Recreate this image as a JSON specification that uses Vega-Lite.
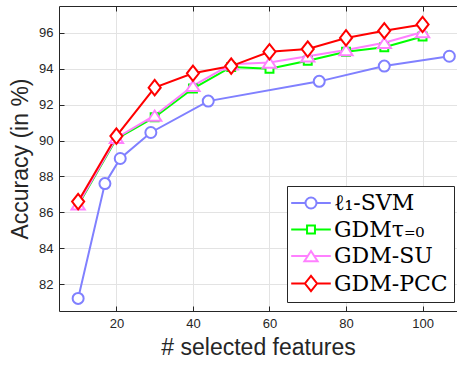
{
  "$schema": "https://vega.github.io/schema/vega-lite/v6.json",
  "width": 398,
  "height": 305,
  "autosize": {"type": "none"},
  "padding": {"left": 59, "top": 6, "right": 0, "bottom": 58},
  "config": {
    "font": "Liberation Sans",
    "view": {"stroke": null},
    "axis": {
      "labelFont": "Liberation Sans",
      "labelFontSize": 13,
      "labelColor": "#262626",
      "titleFont": "Liberation Sans",
      "titleFontSize": 23,
      "titleFontWeight": "normal",
      "titleColor": "#262626",
      "domainColor": "#262626",
      "tickColor": "#262626",
      "gridColor": "#e3e3e3",
      "gridOpacity": 1,
      "domainWidth": 1,
      "tickWidth": 1
    },
    "legend": {
      "orient": "none", "legendX": 228, "legendY": 180,
      "strokeColor": "#262626", "fillColor": "white", "padding": 6,
      "symbolSize": 121, "symbolStrokeWidth": 2, "symbolOffset": 7, "labelOffset": 12,
      "labelFont": "DejaVu Serif", "labelFontSize": 22, "labelColor": "black", "rowPadding": 4.5
    }
  },
  "data": {
    "values": [
      {"method": "ℓ₁-SVM", "n": 10, "acc": 81.2},
      {"method": "ℓ₁-SVM", "n": 17, "acc": 87.6},
      {"method": "ℓ₁-SVM", "n": 21, "acc": 89.0},
      {"method": "ℓ₁-SVM", "n": 29, "acc": 90.45},
      {"method": "ℓ₁-SVM", "n": 44, "acc": 92.2},
      {"method": "ℓ₁-SVM", "n": 73, "acc": 93.3},
      {"method": "ℓ₁-SVM", "n": 90, "acc": 94.15},
      {"method": "ℓ₁-SVM", "n": 107, "acc": 94.7},
      {"method": "GDMτ₌₀", "n": 10, "acc": 86.4},
      {"method": "GDMτ₌₀", "n": 20, "acc": 90.1},
      {"method": "GDMτ₌₀", "n": 30, "acc": 91.3},
      {"method": "GDMτ₌₀", "n": 40, "acc": 92.9},
      {"method": "GDMτ₌₀", "n": 50, "acc": 94.1},
      {"method": "GDMτ₌₀", "n": 60, "acc": 94.0},
      {"method": "GDMτ₌₀", "n": 70, "acc": 94.45},
      {"method": "GDMτ₌₀", "n": 80, "acc": 94.95},
      {"method": "GDMτ₌₀", "n": 90, "acc": 95.2},
      {"method": "GDMτ₌₀", "n": 100, "acc": 95.8},
      {"method": "GDM-SU", "n": 10, "acc": 86.45},
      {"method": "GDM-SU", "n": 20, "acc": 90.15},
      {"method": "GDM-SU", "n": 30, "acc": 91.4},
      {"method": "GDM-SU", "n": 40, "acc": 93.05},
      {"method": "GDM-SU", "n": 50, "acc": 94.25},
      {"method": "GDM-SU", "n": 60, "acc": 94.35},
      {"method": "GDM-SU", "n": 70, "acc": 94.7},
      {"method": "GDM-SU", "n": 80, "acc": 95.05},
      {"method": "GDM-SU", "n": 90, "acc": 95.45},
      {"method": "GDM-SU", "n": 100, "acc": 96.05},
      {"method": "GDM-PCC", "n": 10, "acc": 86.6},
      {"method": "GDM-PCC", "n": 20, "acc": 90.25},
      {"method": "GDM-PCC", "n": 30, "acc": 92.95},
      {"method": "GDM-PCC", "n": 40, "acc": 93.75},
      {"method": "GDM-PCC", "n": 50, "acc": 94.15},
      {"method": "GDM-PCC", "n": 60, "acc": 94.95},
      {"method": "GDM-PCC", "n": 70, "acc": 95.1},
      {"method": "GDM-PCC", "n": 80, "acc": 95.72},
      {"method": "GDM-PCC", "n": 90, "acc": 96.12},
      {"method": "GDM-PCC", "n": 100, "acc": 96.47}
    ]
  },
  "layer": [
    {
      "mark": {"type": "line", "strokeWidth": 2},
      "encoding": {
        "x": {
          "field": "n", "type": "quantitative",
          "scale": {"domain": [5, 109], "nice": false, "zero": false},
          "axis": {"orient": "top", "labels": false, "title": null, "grid": false, "values": [20, 40, 60, 80, 100], "tickSize": -5}
        },
        "y": {
          "field": "acc", "type": "quantitative",
          "scale": {"domain": [80.5, 97.5], "nice": false, "zero": false},
          "axis": {"orient": "left", "values": [82, 84, 86, 88, 90, 92, 94, 96], "tickSize": -5, "labelPadding": 11, "grid": true, "title": "Accuracy (in %)", "titlePadding": 6}
        },
        "color": {
          "field": "method", "type": "nominal",
          "scale": {"domain": ["ℓ₁-SVM", "GDMτ₌₀", "GDM-SU", "GDM-PCC"], "range": ["#8080ff", "#00ff00", "#ff80ff", "#ff0000"]},
          "legend": {
            "title": null,
            "encode": {
              "symbols": {
                "update": {
                  "fill": {"value": "white"},
                  "stroke": {"scale": "color", "field": "value"},
                  "strokeWidth": {"value": 2},
                  "opacity": {"value": 1},
                  "shape": {"signal": "datum.value === 'ℓ₁-SVM' ? 'M-3.6,0L-1,0M1,0L3.6,0M1,0C1,0.552,0.552,1,0,1C-0.552,1,-1,0.552,-1,0C-1,-0.552,-0.552,-1,0,-1C0.552,-1,1,-0.552,1,0Z' : datum.value === 'GDMτ₌₀' ? 'M-3.6,0L-0.72,0M0.72,0L3.6,0M-0.72,-0.72L0.72,-0.72L0.72,0.72L-0.72,0.72Z' : datum.value === 'GDM-SU' ? 'M-3.6,0L-0.6,0M0.6,0L3.6,0M0,-0.9L1.2,0.95L-1.2,0.95Z' : 'M-3.6,0L-1.1,0M1.1,0L3.6,0M0,-1.4L1.1,0L0,1.4L-1.1,0Z'"}
                }
              }
            }
          }
        }
      }
    },
    {
      "mark": {"type": "point", "filled": false, "fill": "white", "strokeWidth": 2, "opacity": 1, "size": 121},
      "encoding": {
        "x": {
          "field": "n", "type": "quantitative",
          "axis": {"orient": "bottom", "values": [20, 40, 60, 80, 100], "tickSize": -5, "labelPadding": 11, "grid": true, "title": "# selected features", "titlePadding": 6}
        },
        "y": {"field": "acc", "type": "quantitative"},
        "color": {"field": "method", "type": "nominal"},
        "shape": {
          "field": "method", "type": "nominal", "legend": null,
          "scale": {"domain": ["GDM-PCC", "GDM-SU", "GDMτ₌₀", "ℓ₁-SVM"], "range": ["M0,-1.4L1.1,0L0,1.4L-1.1,0Z", "M0,-0.9L1.2,0.95L-1.2,0.95Z", "M-0.72,-0.72L0.72,-0.72L0.72,0.72L-0.72,0.72Z", "circle"]}
        }
      }
    }
  ],
  "resolve": {"axis": {"x": "independent"}}
}
